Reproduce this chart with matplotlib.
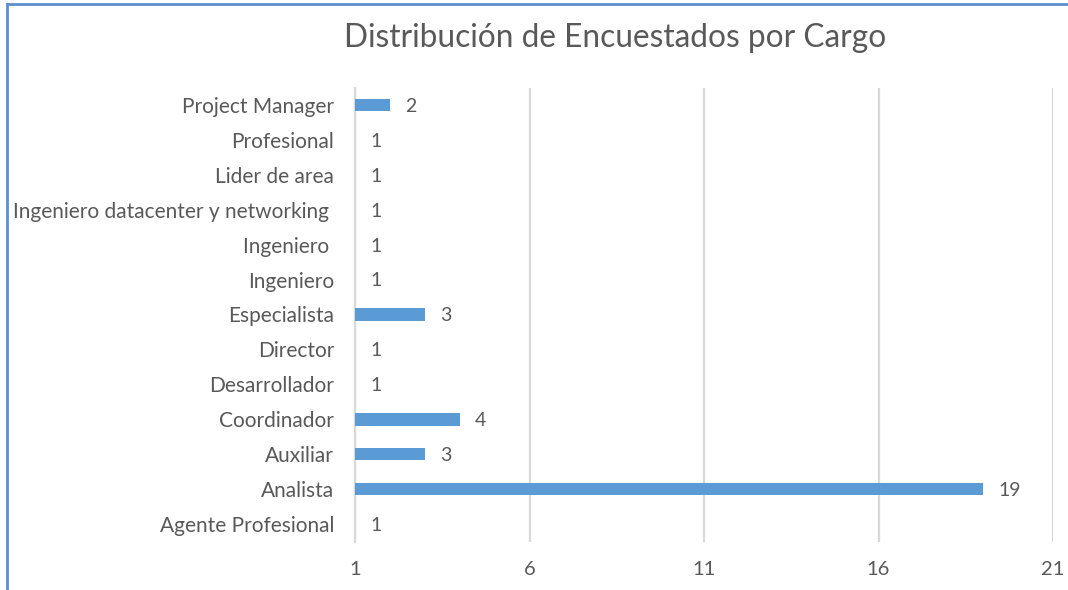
import matplotlib.pyplot as plt
from matplotlib.lines import Line2D

# --- DATA ---
cargos = ["Project Manager", "Profesional", "Lider de area",
          "Ingeniero datacenter y networking ", "Ingeniero ", "Ingeniero",
          "Especialista", "Director", "Desarrollador", "Coordinador",
          "Auxiliar", "Analista", "Agente Profesional"]
encuestados = [2, 1, 1, 1, 1, 1, 3, 1, 1, 4, 3, 19, 1]
x_ticks = [1, 6, 11, 16, 21]

# --- PLOTTING ---
plt.rcParams['font.family'] = ['Lato', 'DejaVu Sans']
gray = '#595959'

fig = plt.figure(figsize=(10.68, 5.90), dpi=100)
ax = fig.add_axes([355 / 1068, 1 - 541.5 / 590, (1053 - 355) / 1068, (541.5 - 87.5) / 590])

ypos = list(range(len(cargos)))[::-1]
ax.barh(ypos, encuestados, height=0.36, color='#5b9bd5', zorder=3)

for y, v in zip(ypos, encuestados):
    ax.annotate(str(v), (v, y - 0.04), xytext=(11, 0), textcoords='offset points',
                va='center', ha='left', fontsize=14, color=gray)

ax.set_xlim(1, 21)
ax.set_ylim(-0.5, len(cargos) - 0.5)
ax.set_xticks(x_ticks)
ax.set_yticks(ypos)
ax.set_yticklabels(cargos)
ax.tick_params(length=0, labelsize=14.5, labelcolor=gray)
ax.tick_params(axis='y', labelsize=15)
ax.tick_params(axis='x', pad=14)
ax.tick_params(axis='y', pad=15)

ax.grid(axis='x', color='#d9d9d9', linewidth=1.6, zorder=0)
for s in ['top', 'right', 'bottom']:
    ax.spines[s].set_visible(False)
ax.spines['left'].set_color('#d9d9d9')
ax.spines['left'].set_linewidth(1.6)

fig.text(615 / 1068, 1 - 38 / 590, 'Distribución de Encuestados por Cargo',
         ha='center', va='center', fontsize=22.8, color=gray)

# blue border of the chart frame (cropped)
fig.add_artist(Line2D([7 / 1068, 1], [1 - 4 / 590, 1 - 4 / 590], transform=fig.transFigure,
                      color='#5b8fd0', linewidth=2))
fig.add_artist(Line2D([7 / 1068, 7 / 1068], [0, 1 - 4 / 590], transform=fig.transFigure,
                      color='#5b8fd0', linewidth=2))

plt.savefig('out.png', dpi=100)
